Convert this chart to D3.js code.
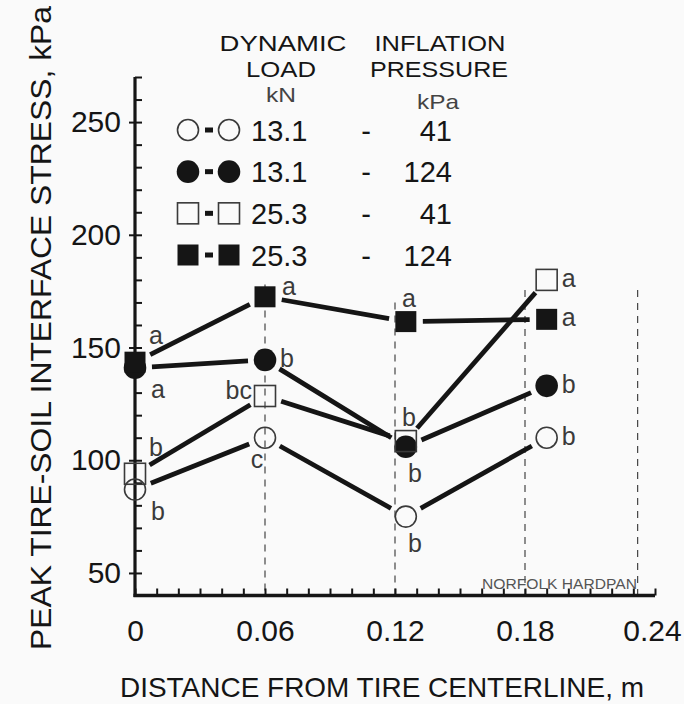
<!DOCTYPE html>
<html><head><meta charset="utf-8">
<script src="https://cdn.jsdelivr.net/npm/d3@7"></script>
<style>body{margin:0;background:#fafafa}svg{display:block}</style></head>
<body><svg id="c" width="684" height="704"></svg>
<script>
// ---- data ----
const distances = [0, 0.06, 0.125, 0.19];
const loads = ["13.1", "13.1", "25.3", "25.3"];
const pressures = ["41", "124", "41", "124"];
const shapes = ["circle", "circle", "square", "square"];
const filled = [false, true, false, true];
const openCircle = [87, 110, 75, 110];
const filledCircle = [141, 144.5, 106, 133];
const openSquare = [94, 128.5, 108.5, 180];
const filledSquare = [143.5, 172.5, 161.5, 162.5];
const lettersOpenCircle = ["b", "c", "b", "b"];
const lettersFilledCircle = ["a", "b", "b", "b"];
const lettersOpenSquare = ["b", "bc", "b", "a"];
const lettersFilledSquare = ["a", "a", "a", "a"];
// where each letter sits relative to its marker
const placeOpenCircle = ["DR", "DL", "D", "R"];
const placeFilledCircle = ["DR", "R", "D", "R"];
const placeOpenSquare = ["UR", "L", "U", "R"];
const placeFilledSquare = ["UR", "RU", "U", "R"];
const yTicks = [50, 100, 150, 200, 250];
const xTicks = [0, 0.06, 0.12, 0.18, 0.24];
const refLineX = [0.06, 0.12, 0.18, 0.232];
const refLineTop = [178, 170, 175.5, 175.5];

const seriesValues = [openCircle, filledCircle, openSquare, filledSquare];
const seriesLetters = [lettersOpenCircle, lettersFilledCircle, lettersOpenSquare, lettersFilledSquare];
const seriesPlace = [placeOpenCircle, placeFilledCircle, placeOpenSquare, placeFilledSquare];

// ---- drawing ----
const svg = d3.select("#c");
svg.append("rect").attr("width", 684).attr("height", 704).attr("fill", "#fafafa");
const FONT = "'Liberation Sans', Arial, Helvetica, sans-serif";
const ink = "#151515";

const x = d3.scaleLinear([0, 0.24], [135, 655]);
const y = d3.scaleLinear([40, 270], [595.5, 77]);

// dashed reference lines
svg.append("g").selectAll("line").data(refLineX).join("line")
  .attr("x1", d => x(d)).attr("x2", d => x(d))
  .attr("y1", (d, i) => y(refLineTop[i])).attr("y2", y(40))
  .attr("stroke", "#333").attr("stroke-width", 1.1).attr("stroke-dasharray", "7,6");

// y axis
const gyMinor = svg.append("g").attr("transform", `translate(${x(0)},0)`)
  .call(d3.axisRight(y).tickValues(d3.range(40, 271, 10)).tickSize(7).tickFormat(""));
const gyMajor = svg.append("g").attr("transform", `translate(${x(0)},0)`)
  .call(d3.axisLeft(y).tickValues(yTicks).tickSize(6).tickPadding(8));
// x axis
const gxMinor = svg.append("g").attr("transform", `translate(0,${y(40)})`)
  .call(d3.axisTop(x).tickValues(d3.range(0, 25).map(i => i / 100)).tickSize(7).tickFormat(""));
const gxMajor = svg.append("g").attr("transform", `translate(0,${y(40)})`)
  .call(d3.axisBottom(x).tickValues(xTicks).tickSize(0).tickPadding(24)
    .tickFormat(d => d === 0 ? "0" : d.toFixed(2)));
[gyMinor, gyMajor, gxMinor, gxMajor].forEach(g => {
  g.select(".domain").remove();
  g.selectAll("line").attr("stroke", ink).attr("stroke-width", 2);
  g.selectAll("text").attr("font-family", FONT).attr("font-size", 30).attr("fill", ink);
});
gxMajor.selectAll("text").attr("dx", d => d === 0.24 ? -3 : 0);
svg.append("line").attr("x1", x(0)).attr("x2", x(0)).attr("y1", y(270)).attr("y2", y(40) + 1.5)
  .attr("stroke", ink).attr("stroke-width", 3.2);
svg.append("line").attr("x1", x(0) - 1.5).attr("x2", x(0.24)).attr("y1", y(40)).attr("y2", y(40))
  .attr("stroke", ink).attr("stroke-width", 3.6);

// series lines (with gaps near the markers)
const gap = 17;
const gLines = svg.append("g");
seriesValues.forEach(vals => {
  for (let i = 0; i < vals.length - 1; i++) {
    const x1 = x(distances[i]), y1 = y(vals[i]), x2 = x(distances[i + 1]), y2 = y(vals[i + 1]);
    const L = Math.hypot(x2 - x1, y2 - y1), ux = (x2 - x1) / L, uy = (y2 - y1) / L;
    gLines.append("line")
      .attr("x1", x1 + ux * gap).attr("y1", y1 + uy * gap)
      .attr("x2", x2 - ux * gap).attr("y2", y2 - uy * gap)
      .attr("stroke", ink).attr("stroke-width", 4.8);
  }
});

// markers
function marker(g, shape, fill, cx, cy, size) {
  if (shape === "circle") {
    g.append("circle").attr("cx", cx).attr("cy", cy).attr("r", fill ? size / 2 + 0.8 : size / 2)
      .attr("fill", fill ? ink : "none").attr("stroke", fill ? ink : "#3a3a3a").attr("stroke-width", fill ? 0 : 1.6);
  } else {
    g.append("rect").attr("x", cx - size / 2).attr("y", cy - size / 2).attr("width", size).attr("height", size)
      .attr("fill", fill ? ink : "none").attr("stroke", fill ? ink : "#3a3a3a").attr("stroke-width", fill ? 0 : 1.6);
  }
}
const gMarks = svg.append("g");
seriesValues.forEach((vals, s) => {
  vals.forEach((v, i) => marker(gMarks, shapes[s], filled[s], x(distances[i]), y(v), 21));
});

// significance letters
const placeOffset = {
  R: [22, 0, "middle"], UR: [21, -25, "middle"], DR: [23, 23, "middle"], U: [3, -22, "middle"],
  D: [9, 28, "middle"], DL: [-8, 23, "middle"], L: [-13, -4, "end"], RU: [24, -9, "middle"]
};
const gLet = svg.append("g").attr("font-family", FONT).attr("font-size", 25).attr("fill", "#3a3a3a");
seriesValues.forEach((vals, s) => {
  vals.forEach((v, i) => {
    const o = placeOffset[seriesPlace[s][i]];
    gLet.append("text").attr("x", x(distances[i]) + o[0]).attr("y", y(v) + o[1] + 7)
      .attr("text-anchor", o[2]).text(seriesLetters[s][i]);
  });
});

// legend
const gLeg = svg.append("g").attr("font-family", FONT).attr("fill", ink);
const hdr = [["DYNAMIC", 283, 51, 127], ["LOAD", 281, 76.5, 70], ["INFLATION", 440, 51, 131], ["PRESSURE", 439, 76.5, 138]];
hdr.forEach(h => gLeg.append("text").attr("x", h[1]).attr("y", h[2]).attr("text-anchor", "middle")
  .attr("font-size", 22.5).attr("textLength", h[3]).attr("lengthAdjust", "spacingAndGlyphs").text(h[0]));
gLeg.append("text").attr("x", 281).attr("y", 102).attr("text-anchor", "middle").attr("font-size", 21)
  .attr("fill", "#444").attr("textLength", 30).attr("lengthAdjust", "spacingAndGlyphs").text("kN");
gLeg.append("text").attr("x", 438).attr("y", 109).attr("text-anchor", "middle").attr("font-size", 21)
  .attr("fill", "#444").attr("textLength", 42).attr("lengthAdjust", "spacingAndGlyphs").text("kPa");
const rowY = d3.scaleLinear([0, 3], [130, 255]);
loads.forEach((ld, s) => {
  const cy = rowY(s);
  marker(gLeg, shapes[s], filled[s], 188, cy, 21);
  gLeg.append("line").attr("x1", 205).attr("x2", 213).attr("y1", cy).attr("y2", cy).attr("stroke", ink).attr("stroke-width", 5);
  marker(gLeg, shapes[s], filled[s], 229, cy, 21);
  gLeg.append("text").attr("x", 251).attr("y", cy + 10.5).attr("font-size", 29).text(ld);
  gLeg.append("text").attr("x", 366).attr("y", cy + 10.5).attr("font-size", 29).attr("text-anchor", "middle").text("-");
  gLeg.append("text").attr("x", 452).attr("y", cy + 10.5).attr("font-size", 29).attr("text-anchor", "end").text(pressures[s]);
});

// annotation
svg.append("text").attr("x", 482).attr("y", 589).attr("font-family", FONT).attr("font-size", 14)
  .attr("fill", "#555").attr("textLength", 155).attr("lengthAdjust", "spacingAndGlyphs").text("NORFOLK HARDPAN");

// axis titles
svg.append("text").attr("x", 382).attr("y", 697).attr("text-anchor", "middle").attr("font-family", FONT)
  .attr("font-size", 28).attr("fill", ink).attr("textLength", 524).attr("lengthAdjust", "spacingAndGlyphs")
  .text("DISTANCE FROM TIRE CENTERLINE, m");
svg.append("text").attr("transform", "translate(51,328) rotate(-90)").attr("text-anchor", "middle")
  .attr("font-family", FONT).attr("font-size", 30).attr("fill", ink)
  .attr("textLength", 644).attr("lengthAdjust", "spacingAndGlyphs")
  .text("PEAK TIRE-SOIL INTERFACE STRESS, kPa");
</script></body></html>
